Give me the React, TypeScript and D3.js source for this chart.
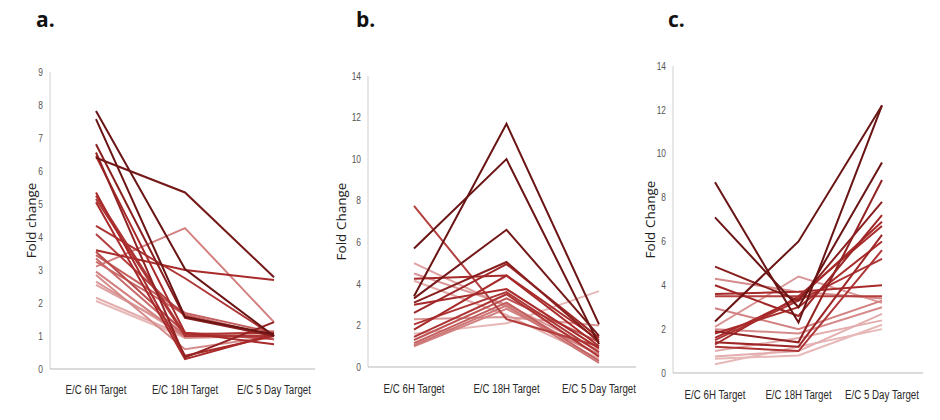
import React from "react";
import * as d3 from "d3";

const categories = ["E/C 6H Target", "E/C 18H Target", "E/C 5 Day Target"];

// Panel a series: [6H, 18H, 5 Day]
const seriesA: number[][] = [
  [7.82, 3.03, 1.0],
  [7.57, 1.58, 1.05],
  [6.81, 1.55, 1.0],
  [6.56, 0.35, 1.42],
  [6.45, 1.1, 0.75],
  [6.4, 5.35, 2.78],
  [5.35, 0.4, 1.0],
  [5.25, 1.05, 1.1],
  [5.15, 1.0, 1.0],
  [5.05, 0.3, 1.05],
  [4.34, 2.75, 1.0],
  [4.09, 1.6, 1.0],
  [3.6, 3.0, 2.7],
  [3.55, 1.1, 0.9],
  [3.45, 1.7, 1.1],
  [3.35, 1.0, 1.0],
  [3.25, 1.65, 1.0],
  [3.1, 4.27, 1.42],
  [2.95, 0.95, 1.0],
  [2.85, 0.6, 1.0],
  [2.65, 1.0, 1.15],
  [2.55, 1.1, 1.0],
  [2.16, 1.0, 1.05],
  [2.06, 0.95, 1.0],
];
const shadeA = [0, 0, 0.15, 0.2, 0.3, 0.05, 0.3, 0.35, 0.35, 0.3, 0.35, 0.4, 0.3, 0.45, 0.55, 0.6, 0.6, 0.7, 0.7, 0.75, 0.8, 0.85, 0.9, 0.95];

// Panel b series
const seriesB: number[][] = [
  [7.75, 2.3, 1.0],
  [5.7, 10.0, 1.1],
  [5.0, 2.9, 0.6],
  [4.5, 3.0, 0.8],
  [4.25, 4.4, 1.3],
  [4.15, 2.5, 0.4],
  [3.4, 11.7, 2.05],
  [3.3, 6.6, 1.5],
  [3.1, 5.05, 1.2],
  [3.0, 3.75, 0.9],
  [2.6, 4.95, 1.4],
  [2.3, 2.4, 2.0],
  [2.05, 3.6, 0.7],
  [1.8, 4.4, 1.0],
  [1.6, 2.1, 3.65],
  [1.45, 3.5, 0.5],
  [1.3, 3.3, 1.2],
  [1.15, 3.1, 0.3],
  [1.05, 2.95, 0.2],
  [1.0, 2.8, 0.6],
];
const shadeB = [0.4, 0, 0.85, 0.8, 0.3, 0.9, 0, 0.05, 0.15, 0.3, 0.25, 0.8, 0.35, 0.3, 0.95, 0.35, 0.5, 0.55, 0.65, 0.7];

// Panel c series
const seriesC: number[][] = [
  [8.7, 2.3, 12.2],
  [7.1, 3.0, 9.6],
  [4.85, 3.3, 7.8],
  [4.3, 3.7, 3.4],
  [4.0, 2.6, 7.2],
  [3.6, 3.7, 4.0],
  [3.5, 3.5, 3.5],
  [2.95, 2.0, 3.3],
  [2.35, 6.0, 12.2],
  [2.1, 4.4, 3.2],
  [2.0, 1.8, 3.0],
  [1.9, 1.4, 8.8],
  [1.6, 3.4, 6.9],
  [1.4, 1.2, 6.3],
  [1.3, 3.5, 6.7],
  [1.2, 1.0, 5.6],
  [1.5, 3.3, 5.2],
  [1.8, 3.0, 6.0],
  [1.0, 1.6, 2.4],
  [0.75, 1.0, 2.7],
  [0.65, 0.8, 2.2],
  [0.4, 1.2, 2.0],
];
const shadeC = [0, 0, 0.15, 0.75, 0.25, 0.3, 0.4, 0.7, 0, 0.8, 0.75, 0.2, 0.3, 0.25, 0.3, 0.35, 0.35, 0.3, 0.9, 0.9, 0.95, 0.95];

const ticksA = [0, 1, 2, 3, 4, 5, 6, 7, 8, 9];
const ticksBC = [0, 2, 4, 6, 8, 10, 12, 14];

const colorScale = d3
  .scaleLinear<string>()
  .domain([0, 0.3, 0.6, 1])
  .range(["#6a1414", "#a82a2a", "#c96a6a", "#ebc3c3"]);

const narrowFont = "'Liberation Sans', Arial, sans-serif";

type PanelProps = {
  label: string;
  labelX: number;
  axisX: number;
  axisEnd: number;
  yTop: number;
  yBottom: number;
  xFirst: number;
  xLast: number;
  max: number;
  ticks: number[];
  series: number[][];
  shades: number[];
  title: string;
  titleX: number;
  catY: number;
};

function Panel(p: PanelProps) {
  const x = d3.scalePoint<string>().domain(categories).range([p.xFirst, p.xLast]);
  const y = d3.scaleLinear().domain([0, p.max]).range([p.yBottom, p.yTop]);
  const line = d3
    .line<number>()
    .x((_, i) => x(categories[i]) as number)
    .y((d) => y(d));
  const midY = (p.yTop + p.yBottom) / 2;
  const order = p.series.map((_, i) => i).sort((a, b) => p.shades[b] - p.shades[a]);
  return (
    <g>
      <text x={p.labelX} y={27} fontFamily="'Open Sans', Arial, sans-serif" fontWeight="bold" fontSize={21} fill="#111">
        {p.label}
      </text>
      <line x1={p.axisX} x2={p.axisX} y1={y(p.max)} y2={y(0)} stroke="#cfcfcf" strokeWidth={1} />
      <line x1={p.axisX} x2={p.axisEnd} y1={y(0)} y2={y(0)} stroke="#b8b8b8" strokeWidth={1.2} />
      {p.ticks.map((t) => (
        <text
          key={t}
          transform={`translate(${p.axisX - 7},${y(t)}) scale(0.8,1)`}
          dy="0.35em"
          textAnchor="end"
          fontFamily={narrowFont}
          fontSize={10.5}
          fill="#555"
        >
          {t}
        </text>
      ))}
      {categories.map((c) => (
        <text
          key={c}
          transform={`translate(${x(c) as number},${p.catY}) scale(0.72,1)`}
          dy="0.35em"
          textAnchor="middle"
          fontFamily={narrowFont}
          fontSize={13.5}
          fill="#2a2a2a"
        >
          {c}
        </text>
      ))}
      <text
        transform={`translate(${p.titleX},${midY}) rotate(-90)`}
        textAnchor="middle"
        fontFamily="'Open Sans', Arial, sans-serif"
        fontSize={13.5}
        fill="#222"
      >
        {p.title}
      </text>
      {order.map((i) => (
        <path
          key={i}
          d={line(p.series[i]) || ""}
          fill="none"
          stroke={colorScale(p.shades[i])}
          strokeWidth={2}
          strokeLinejoin="miter"
        />
      ))}
    </g>
  );
}

export default function App() {
  return (
    <svg
      width={940}
      height={420}
      style={{ position: "absolute", left: 0, top: 0, background: "#fff" }}
    >
      <rect width={940} height={420} fill="#fff" />
      <Panel
        label="a."
        labelX={36}
        axisX={50}
        axisEnd={315}
        yTop={72}
        yBottom={369}
        xFirst={96}
        xLast={274}
        max={9}
        ticks={ticksA}
        series={seriesA}
        shades={shadeA}
        title="Fold change"
        titleX={36}
        catY={389}
      />
      <Panel
        label="b."
        labelX={356}
        axisX={368}
        axisEnd={636}
        yTop={76}
        yBottom={367}
        xFirst={414}
        xLast={599}
        max={14}
        ticks={ticksBC}
        series={seriesB}
        shades={shadeB}
        title="Fold Change"
        titleX={346}
        catY={388}
      />
      <Panel
        label="c."
        labelX={668}
        axisX={673}
        axisEnd={923}
        yTop={66}
        yBottom={373}
        xFirst={715}
        xLast={882}
        max={14}
        ticks={ticksBC}
        series={seriesC}
        shades={shadeC}
        title="Fold Change"
        titleX={655}
        catY={394}
      />
    </svg>
  );
}
